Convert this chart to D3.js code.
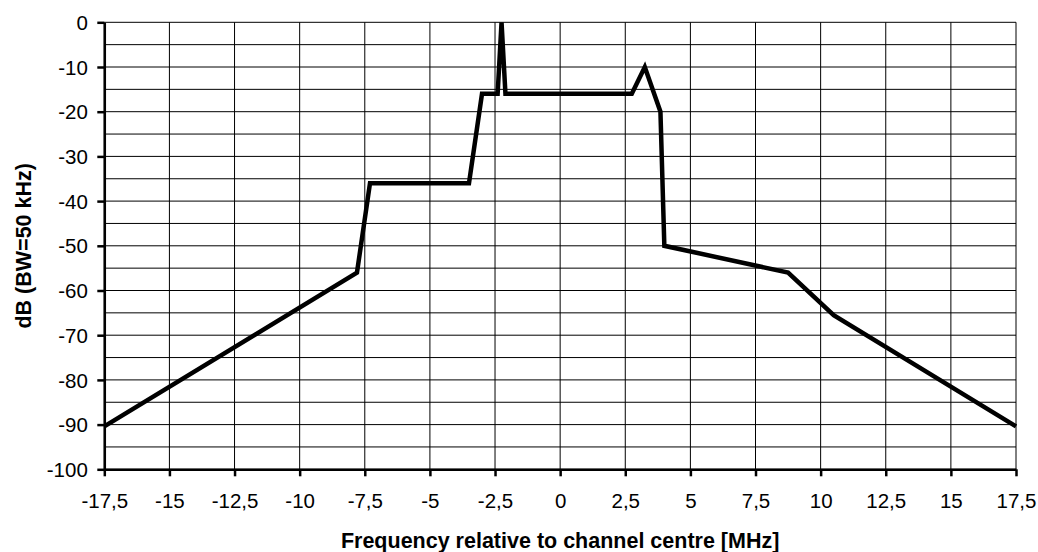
<!DOCTYPE html>
<html>
<head>
<meta charset="utf-8">
<script src="https://cdn.jsdelivr.net/npm/d3@7"></script>
<style>
  body { margin: 0; background: #fff; }
  text { font-family: "Liberation Sans", Arial, sans-serif; }
</style>
</head>
<body>
<div id="chart"></div>
<script>
// mask points: frequency (MHz) and level (dB)
let freqs  = [-17.5, -7.8, -7.3, -3.5, -3.0, -2.4, -2.25, -2.1, 2.75, 3.25, 3.85, 4.0, 8.75, 10.5, 17.5];
let levels = [-90.4, -56, -36, -36, -16, -16, 0, -16, -16, -10, -20, -50, -56, -65.5, -90.4];

let xTicks = [-17.5, -15, -12.5, -10, -7.5, -5, -2.5, 0, 2.5, 5, 7.5, 10, 12.5, 15, 17.5];
let yTicks = [0, -10, -20, -30, -40, -50, -60, -70, -80, -90, -100];
let yGrid = [0, -5, -10, -15, -20, -25, -30, -35, -40, -45, -50, -55, -60, -65, -70, -75, -80, -85, -90, -95, -100];

let width = 1038, height = 552;
let margin = {top: 22.3, right: 22, bottom: 82.7, left: 104.3};

let svg = d3.select("#chart").append("svg")
    .attr("width", width)
    .attr("height", height);

let x = d3.scaleLinear()
    .domain([-17.5, 17.5])
    .range([margin.left, width - margin.right]);

let y = d3.scaleLinear()
    .domain([-100, 0])
    .range([height - margin.bottom, margin.top]);

// gridlines
svg.append("g").selectAll("line").data(yGrid).enter()
    .append("line")
    .attr("x1", x(-17.5)).attr("x2", x(17.5))
    .attr("y1", d => y(d)).attr("y2", d => y(d))
    .attr("stroke", "#000").attr("stroke-width", 1);

svg.append("g").selectAll("line").data(xTicks).enter()
    .append("line")
    .attr("x1", d => x(d)).attr("x2", d => x(d))
    .attr("y1", y(0)).attr("y2", y(-100))
    .attr("stroke", "#000").attr("stroke-width", 1);

// axes (plain hyphen for minus, comma as decimal mark)
let xAxis = svg.append("g")
    .attr("transform", "translate(0," + y(-100) + ")")
    .call(d3.axisBottom(x).tickValues(xTicks).tickSize(7).tickSizeOuter(0)
        .tickFormat(d => String(d).replace(".", ",")));

let yAxis = svg.append("g")
    .attr("transform", "translate(" + x(-17.5) + ",0)")
    .call(d3.axisLeft(y).tickValues(yTicks).tickSize(7).tickSizeOuter(0)
        .tickFormat(d => String(d)));

[xAxis, yAxis].forEach(function(a){
    a.select(".domain").attr("stroke", "#000").attr("stroke-width", 2.5);
    a.selectAll(".tick line").attr("stroke", "#000").attr("stroke-width", 2.5);
    a.selectAll(".tick text")
        .style("font-family", "'Liberation Sans', Arial, sans-serif")
        .style("font-size", "20.5px")
        .attr("fill", "#000");
});
xAxis.selectAll(".tick text").attr("dy", "0").attr("y", 38.5);
yAxis.selectAll(".tick text").attr("x", -16.5).attr("dy", "0.35em");

// mask line
let points = freqs.map((f, i) => [f, levels[i]]);
let line = d3.line()
    .x(d => x(d[0]))
    .y(d => y(d[1]));

svg.append("path")
    .datum(points)
    .attr("d", line)
    .attr("fill", "none")
    .attr("stroke", "#000")
    .attr("stroke-width", 4.5)
    .attr("stroke-linejoin", "miter");

// axis titles
svg.append("text")
    .attr("x", (x(-17.5) + x(17.5)) / 2)
    .attr("y", 548)
    .attr("text-anchor", "middle")
    .style("font-size", "21.5px")
    .style("font-weight", "bold")
    .text("Frequency relative to channel centre [MHz]");

svg.append("text")
    .attr("transform", "translate(30.5," + ((y(0) + y(-100)) / 2) + ") rotate(-90)")
    .attr("text-anchor", "middle")
    .style("font-size", "21.5px")
    .style("font-weight", "bold")
    .text("dB (BW=50 kHz)");
</script>
</body>
</html>
